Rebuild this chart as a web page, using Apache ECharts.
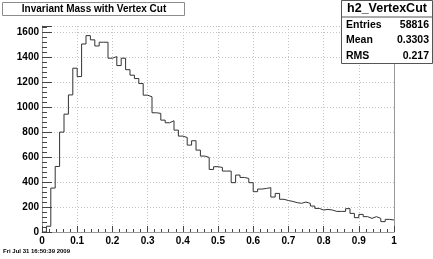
<!DOCTYPE html>
<html><head><meta charset="utf-8">
<script src="https://cdn.jsdelivr.net/npm/echarts@6/dist/echarts.min.js"></script>
<style>html,body{margin:0;padding:0;background:#fff}#c{width:433px;height:259px}</style>
</head><body><div id="c"></div>
<script>
const histTitle = 'Invariant Mass with Vertex Cut';
const histName = 'h2_VertexCut';
const statLabels = ['Entries', 'Mean', 'RMS'];
const statValues = ['58816', '0.3303', '0.217'];
const dateText = 'Fri Jul 31 16:50:39 2009';
const xRange = [0, 1];
const xInterval = 0.1;
const yMax = 1650;
const yInterval = 200;
const binValues = [
  0, 46, 352, 525, 800, 944, 1098, 1312, 1245, 1506,
  1573, 1539, 1490, 1520, 1520, 1392, 1405, 1333, 1392, 1300,
  1256, 1229, 1189, 1096, 1083, 955, 950, 896, 875, 891,
  816, 768, 757, 696, 731, 656, 608, 597, 501, 523,
  517, 488, 488, 395, 456, 437, 429, 395, 323, 344,
  349, 355, 280, 309, 262, 252, 245, 235, 230, 240,
  229, 208, 189, 176, 181, 176, 165, 165, 165, 187,
  149, 115, 141, 123, 109, 123, 109, 83, 101, 96
];

const FONT = '"Liberation Sans", Arial, Helvetica, sans-serif';
const nBins = binValues.length;
const bw = (xRange[1] - xRange[0]) / nBins;
const stepData = binValues.map((v, i) => [xRange[0] + i * bw, v]);
stepData.push([xRange[1], binValues[nBins - 1]]);

const chart = echarts.init(document.getElementById('c'), null, {renderer: 'canvas'});
const gridLine = {show: true, lineStyle: {color: '#c4c4c4', type: [1, 2], width: 1}};

const graphics = [
  {type: 'rect', z: 100, shape: {x: 2.5, y: 2.5, width: 182, height: 13},
   style: {fill: '#fff', stroke: '#8c8c8c', lineWidth: 1}},
  {type: 'text', z: 101, x: 94, y: 9.5,
   style: {text: histTitle, fontFamily: FONT, fontWeight: 'bold', fontSize: 10, fill: '#000', align: 'center', verticalAlign: 'middle'}},
  {type: 'rect', z: 100, shape: {x: 341.5, y: 0.5, width: 91, height: 63},
   style: {fill: '#fff', stroke: '#555', lineWidth: 1}},
  {type: 'line', z: 101, shape: {x1: 341.5, y1: 17, x2: 432.5, y2: 17},
   style: {stroke: '#555', lineWidth: 1}},
  {type: 'text', z: 101, x: 387, y: 9,
   style: {text: histName, fontFamily: FONT, fontWeight: 'bold', fontSize: 12.5, fill: '#000', align: 'center', verticalAlign: 'middle'}},
  {type: 'text', z: 101, x: 3, y: 251,
   style: {text: dateText, fontFamily: FONT, fontWeight: 'bold', fontSize: 6, fill: '#000', align: 'left', verticalAlign: 'middle'}}
];
statLabels.forEach((lab, i) => {
  const y = 25 + i * 15.5;
  graphics.push({type: 'text', z: 101, x: 346, y: y,
    style: {text: lab, fontFamily: FONT, fontWeight: 'bold', fontSize: 10.5, fill: '#000', align: 'left', verticalAlign: 'middle'}});
  graphics.push({type: 'text', z: 101, x: 429, y: y,
    style: {text: statValues[i], fontFamily: FONT, fontWeight: 'bold', fontSize: 10.5, fill: '#000', align: 'right', verticalAlign: 'middle'}});
});

chart.setOption({
  animation: false,
  backgroundColor: '#fff',
  grid: {left: 42, right: 39, top: 26, bottom: 27, containLabel: false},
  xAxis: {
    type: 'value', min: xRange[0], max: xRange[1], interval: xInterval,
    axisLine: {show: true, lineStyle: {color: '#999', width: 1}},
    axisTick: {show: true, inside: true, length: 6, lineStyle: {color: '#444'}},
    minorTick: {show: true, splitNumber: 5, length: 3, lineStyle: {color: '#444'}},
    splitLine: gridLine,
    axisLabel: {color: '#000', fontFamily: FONT, fontWeight: 'bold', fontSize: 10, margin: 4,
      formatter: v => String(Math.round(v * 10) / 10)}
  },
  yAxis: [{
    type: 'value', min: 0, max: yMax, interval: yInterval,
    axisLine: {show: true, lineStyle: {color: '#999', width: 1}},
    axisTick: {show: true, inside: true, length: 10, lineStyle: {color: '#444'}},
    minorTick: {show: true, splitNumber: 5, length: 5, lineStyle: {color: '#444'}},
    splitLine: gridLine,
    axisLabel: {color: '#000', fontFamily: FONT, fontWeight: 'bold', fontSize: 10, margin: 3, showMaxLabel: false,
      formatter: v => String(Math.round(v))}
  }, {
    type: 'value', position: 'right', min: 0, max: yMax,
    axisLine: {show: true, lineStyle: {color: '#999', width: 1}},
    axisTick: {show: false}, axisLabel: {show: false}, splitLine: {show: false}
  }],
  series: [{
    type: 'line', step: 'end', data: stepData, symbol: 'none', z: 5,
    lineStyle: {color: '#333', width: 1}
  }],
  graphic: graphics
});
</script></body></html>
